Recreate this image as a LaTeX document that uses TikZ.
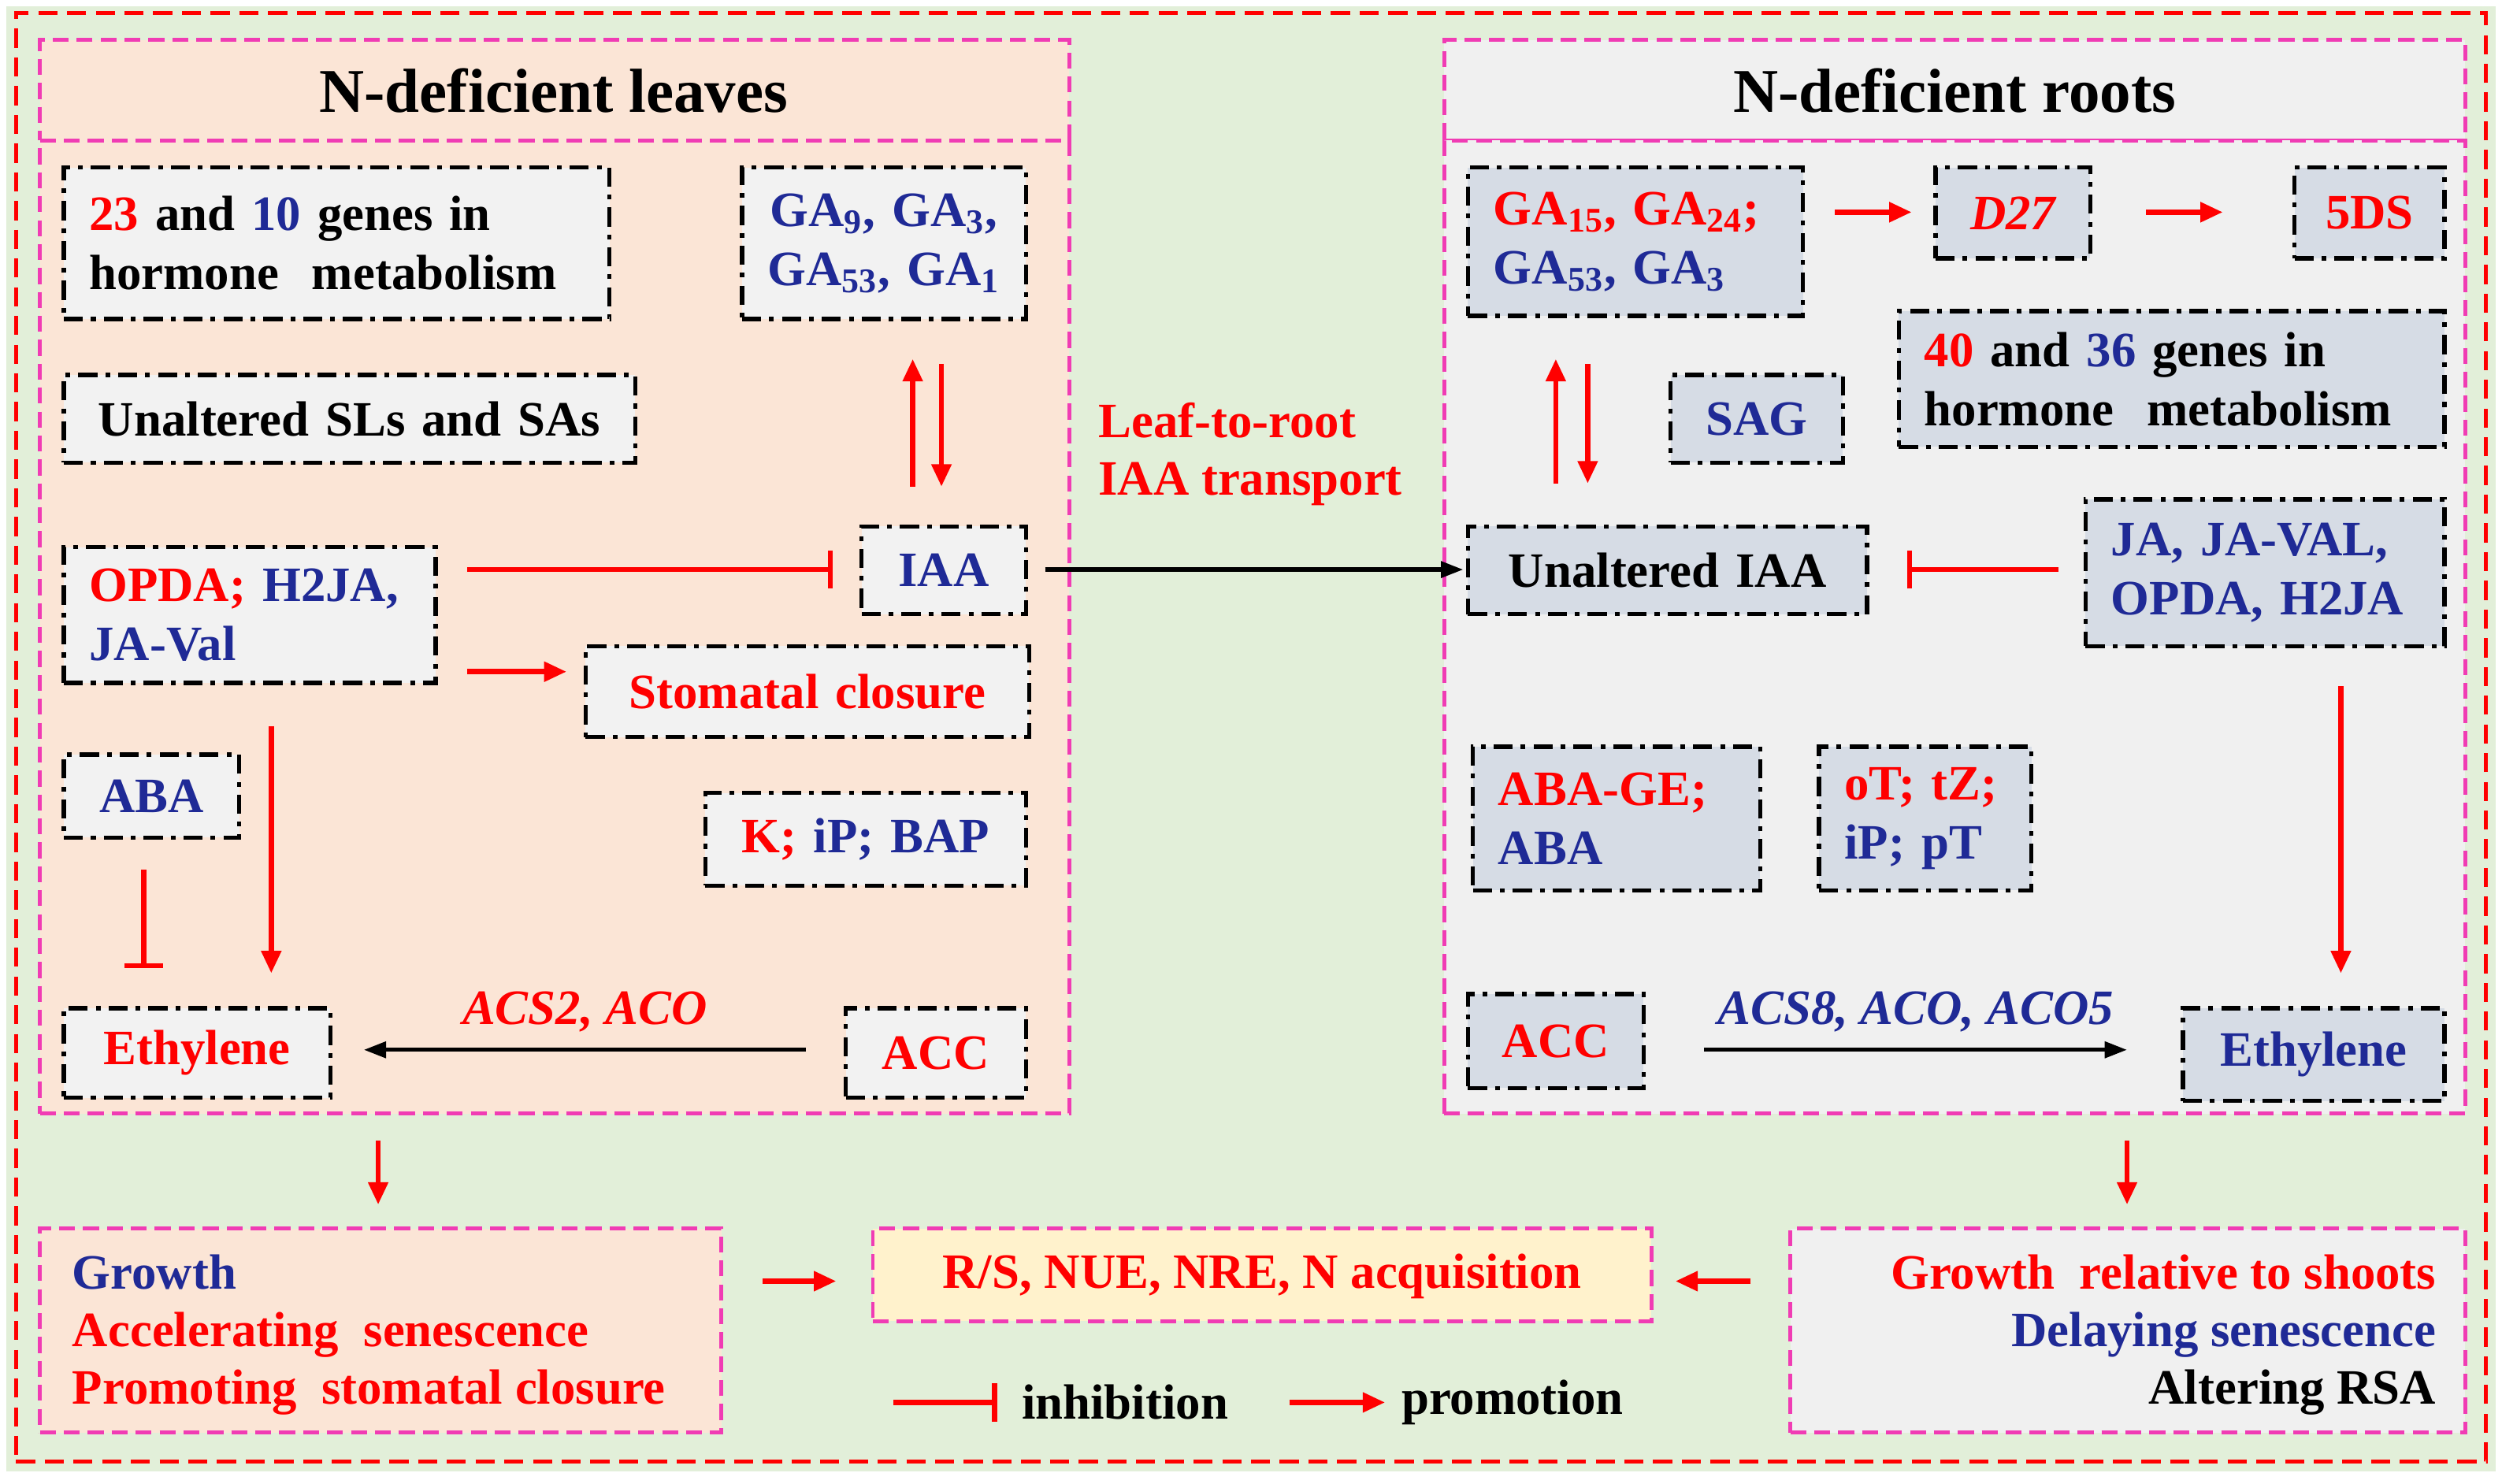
\documentclass[tikz,border=0pt]{standalone}
\usepackage{fontspec}
\setmainfont{Liberation Serif}
\usetikzlibrary{arrows.meta,calc}
\definecolor{bg}{HTML}{E2EFD9}
\definecolor{leaf}{HTML}{FBE5D6}
\definecolor{root}{HTML}{F0F0F0}
\definecolor{rbox}{HTML}{D6DCE5}
\definecolor{lgray}{HTML}{F2F2F2}
\definecolor{yel}{HTML}{FFF2CC}
\definecolor{mag}{HTML}{F03CB4}
\definecolor{rd}{HTML}{FF0000}
\definecolor{bl}{HTML}{1F2A96}
\newcommand{\R}[1]{\textcolor{rd}{#1}}
\newcommand{\B}[1]{\textcolor{bl}{#1}}
\newcommand{\bx}[8]{\node[box,fill=#6,align=#8,text width={(#4-#2)*0.5pt-16pt},minimum height={(#5-#3)*0.5pt}] (#1) at ($(#2,#3)!0.5!(#4,#5)$) {#7};}
\newcommand{\pn}[6]{\node[panel,fill=#6,minimum width={(#4-#2)*0.5pt},minimum height={(#5-#3)*0.5pt}] (#1) at ($(#2,#3)!0.5!(#4,#5)$) {};}
\newcommand{\cc}[3]{\coordinate (#1) at (#2,#3);}
\begin{document}
\begin{tikzpicture}[x=0.5pt,y=-0.5pt,
  box/.style={draw=black,line width=1.3pt,dash pattern=on 6pt off 2.5pt on 1.5pt off 2.5pt,inner ysep=0pt,inner xsep=8pt,font=\fontsize{15.5}{18.5}\selectfont\bfseries},
  panel/.style={draw=mag,line width=1.2pt,dash pattern=on 5pt off 2.5pt,inner sep=0pt},
  ra/.style={draw=rd,line width=1.6pt,-{Triangle[length=7pt,width=6pt]}},
  ka/.style={draw=black,line width=1.3pt,-{Triangle[length=7pt,width=5pt]}},
  rb/.style={draw=rd,line width=1.6pt,-{Bar[width=12pt]}},
  txt/.style={font=\fontsize{15.5}{18}\selectfont\bfseries,inner sep=0pt},
  ttl/.style={font=\fontsize{19.5}{22}\selectfont\bfseries,inner sep=0pt}]
\useasboundingbox (0,0) rectangle (1568,930);
\fill[bg] (4,4) rectangle (1564,922);
\node[draw=rd,line width=1.3pt,dash pattern=on 6pt off 3pt,minimum width={1548*0.5pt},minimum height={908*0.5pt},inner sep=0pt] (outer) at (784,462) {};
% panels
\pn{lt}{25}{25}{670}{88}{leaf}
\pn{lp}{25}{88}{670}{698}{leaf}
\pn{rt}{905}{25}{1545}{88}{root}
\pn{rp}{905}{88}{1545}{698}{root}
\node[ttl] (ltt) at (347,57) {N-deficient leaves};
\node[ttl] (rtt) at (1225,57) {N-deficient roots};
% leaves boxes
\bx{genesL}{40}{105}{382}{200}{lgray}{\R{23} and \B{10} genes in\\hormone~ metabolism}{left}
\bx{gaL}{465}{105}{643}{200}{lgray}{\B{GA\textsubscript{9}, GA\textsubscript{3},}\\\B{GA\textsubscript{53}, GA\textsubscript{1}}}{center}
\bx{sl}{40}{235}{398}{290}{lgray}{Unaltered SLs and SAs}{center}
\bx{opda}{40}{343}{273}{428}{lgray}{\R{OPDA;} \B{H2JA,}\\\B{JA-Val}}{left}
\bx{iaaL}{540}{330}{643}{385}{lgray}{\B{IAA}}{center}
\bx{stom}{367}{405}{645}{462}{lgray}{\R{Stomatal closure}}{center}
\bx{abaL}{40}{473}{150}{525}{lgray}{\B{ABA}}{center}
\bx{kip}{442}{497}{643}{555}{lgray}{\R{K;} \B{iP; BAP}}{center}
\bx{ethL}{40}{632}{207}{688}{lgray}{\R{Ethylene}}{center}
\bx{accL}{530}{632}{643}{688}{lgray}{\R{ACC}}{center}
% roots boxes
\bx{gaR}{920}{105}{1130}{198}{rbox}{\R{GA\textsubscript{15}, GA\textsubscript{24};}\\\B{GA\textsubscript{53}, GA\textsubscript{3}}}{left}
\bx{d27}{1213}{105}{1310}{162}{rbox}{\R{\itshape D27}}{center}
\bx{fds}{1438}{105}{1532}{162}{rbox}{\R{5DS}}{center}
\bx{genesR}{1190}{195}{1532}{280}{rbox}{\R{40} and \B{36} genes in\\hormone~ metabolism}{left}
\bx{sag}{1047}{235}{1155}{290}{rbox}{\B{SAG}}{center}
\bx{iaaR}{920}{330}{1170}{385}{rbox}{Unaltered IAA}{center}
\bx{ja}{1307}{313}{1532}{405}{rbox}{\B{JA, JA-VAL,}\\\B{OPDA, H2JA}}{left}
\bx{abaR}{923}{468}{1103}{558}{rbox}{\R{ABA-GE;}\\\B{ABA}}{left}
\bx{ck}{1140}{468}{1273}{558}{rbox}{\R{oT; tZ;}\\\B{iP; pT}}{left}
\bx{accR}{920}{623}{1030}{682}{rbox}{\R{ACC}}{center}
\bx{ethR}{1368}{632}{1532}{690}{rbox}{\B{Ethylene}}{center}
% coordinates for arrow ends
\cc{a1}{572}{305}\cc{a2}{572}{225}\cc{a3}{590}{228}\cc{a4}{590}{305}
\cc{b1}{293}{357}\cc{b2}{522}{357}
\cc{c1}{293}{421}\cc{c2}{355}{421}
\cc{d1}{170}{455}\cc{d2}{170}{610}
\cc{e1}{90}{545}\cc{e2}{90}{607}
\cc{f1}{505}{658}\cc{f2}{228}{658}
\cc{g1}{655}{357}\cc{g2}{917}{357}
\cc{h1}{1150}{133}\cc{h2}{1198}{133}
\cc{h3}{1345}{133}\cc{h4}{1393}{133}
\cc{i1}{975}{303}\cc{i2}{975}{225}\cc{i3}{995}{228}\cc{i4}{995}{303}
\cc{j1}{1290}{357}\cc{j2}{1195}{357}
\cc{k1}{1467}{430}\cc{k2}{1467}{610}
\cc{m1}{1068}{658}\cc{m2}{1333}{658}
\cc{n1}{237}{715}\cc{n2}{237}{755}
\cc{o1}{1333}{715}\cc{o2}{1333}{755}
\cc{q1}{478}{803}\cc{q2}{524}{803}
\cc{s1}{1097}{803}\cc{s2}{1050}{803}
% leaves arrows
\draw[ra] (a1) -- (a2);
\draw[ra] (a3) -- (a4);
\draw[rb] (b1) -- (b2);
\draw[ra] (c1) -- (c2);
\draw[ra] (d1) -- (d2);
\draw[rb] (e1) -- (e2);
\draw[ka] (f1) -- node[above=5pt,txt,font=\fontsize{15.5}{18}\selectfont\bfseries\itshape,text=rd]{ACS2, ACO} (f2);
% center
\draw[ka] (g1) -- (g2);
\node[txt,align=left,text=rd,anchor=north west] (l2r) at (688,252) {Leaf-to-root\\IAA transport};
% roots arrows
\draw[ra] (h1) -- (h2);
\draw[ra] (h3) -- (h4);
\draw[ra] (i1) -- (i2);
\draw[ra] (i3) -- (i4);
\draw[rb] (j1) -- (j2);
\draw[ra] (k1) -- (k2);
\draw[ka] (m1) -- node[above=5pt,txt,font=\fontsize{15.5}{18}\selectfont\bfseries\itshape,text=bl]{ACS8, ACO, ACO5} (m2);
% bottom panels
\pn{blp}{25}{770}{452}{898}{leaf}
\pn{bc}{547}{770}{1035}{828}{yel}
\pn{brp}{1122}{770}{1545}{898}{root}
\node[txt,align=left,anchor=north west] (blt) at (45,786) {\B{Growth}\\\R{Accelerating~ senescence}\\\R{Promoting~ stomatal closure}};
\node[txt,text=rd] (bct) at (791,800) {R/S, NUE, NRE, N acquisition};
\node[txt,align=right,anchor=north east] (brt) at (1527,786) {\R{Growth~ relative to shoots}\\\B{Delaying senescence}\\Altering RSA};
\draw[ra] (n1) -- (n2);
\draw[ra] (o1) -- (o2);
\draw[ra] (q1) -- (q2);
\draw[ra] (s1) -- (s2);
% legend
\cc{l1}{560}{879}\cc{l2}{625}{879}
\draw[rb] (l1) -- (l2);
\node[txt,anchor=west] (inh) at (640,879) {inhibition};
\cc{p1}{808}{879}\cc{p2}{868}{879}
\draw[ra] (p1) -- (p2);
\node[txt,anchor=west] (pro) at (878,879) {promotion};
\end{tikzpicture}
\end{document}
